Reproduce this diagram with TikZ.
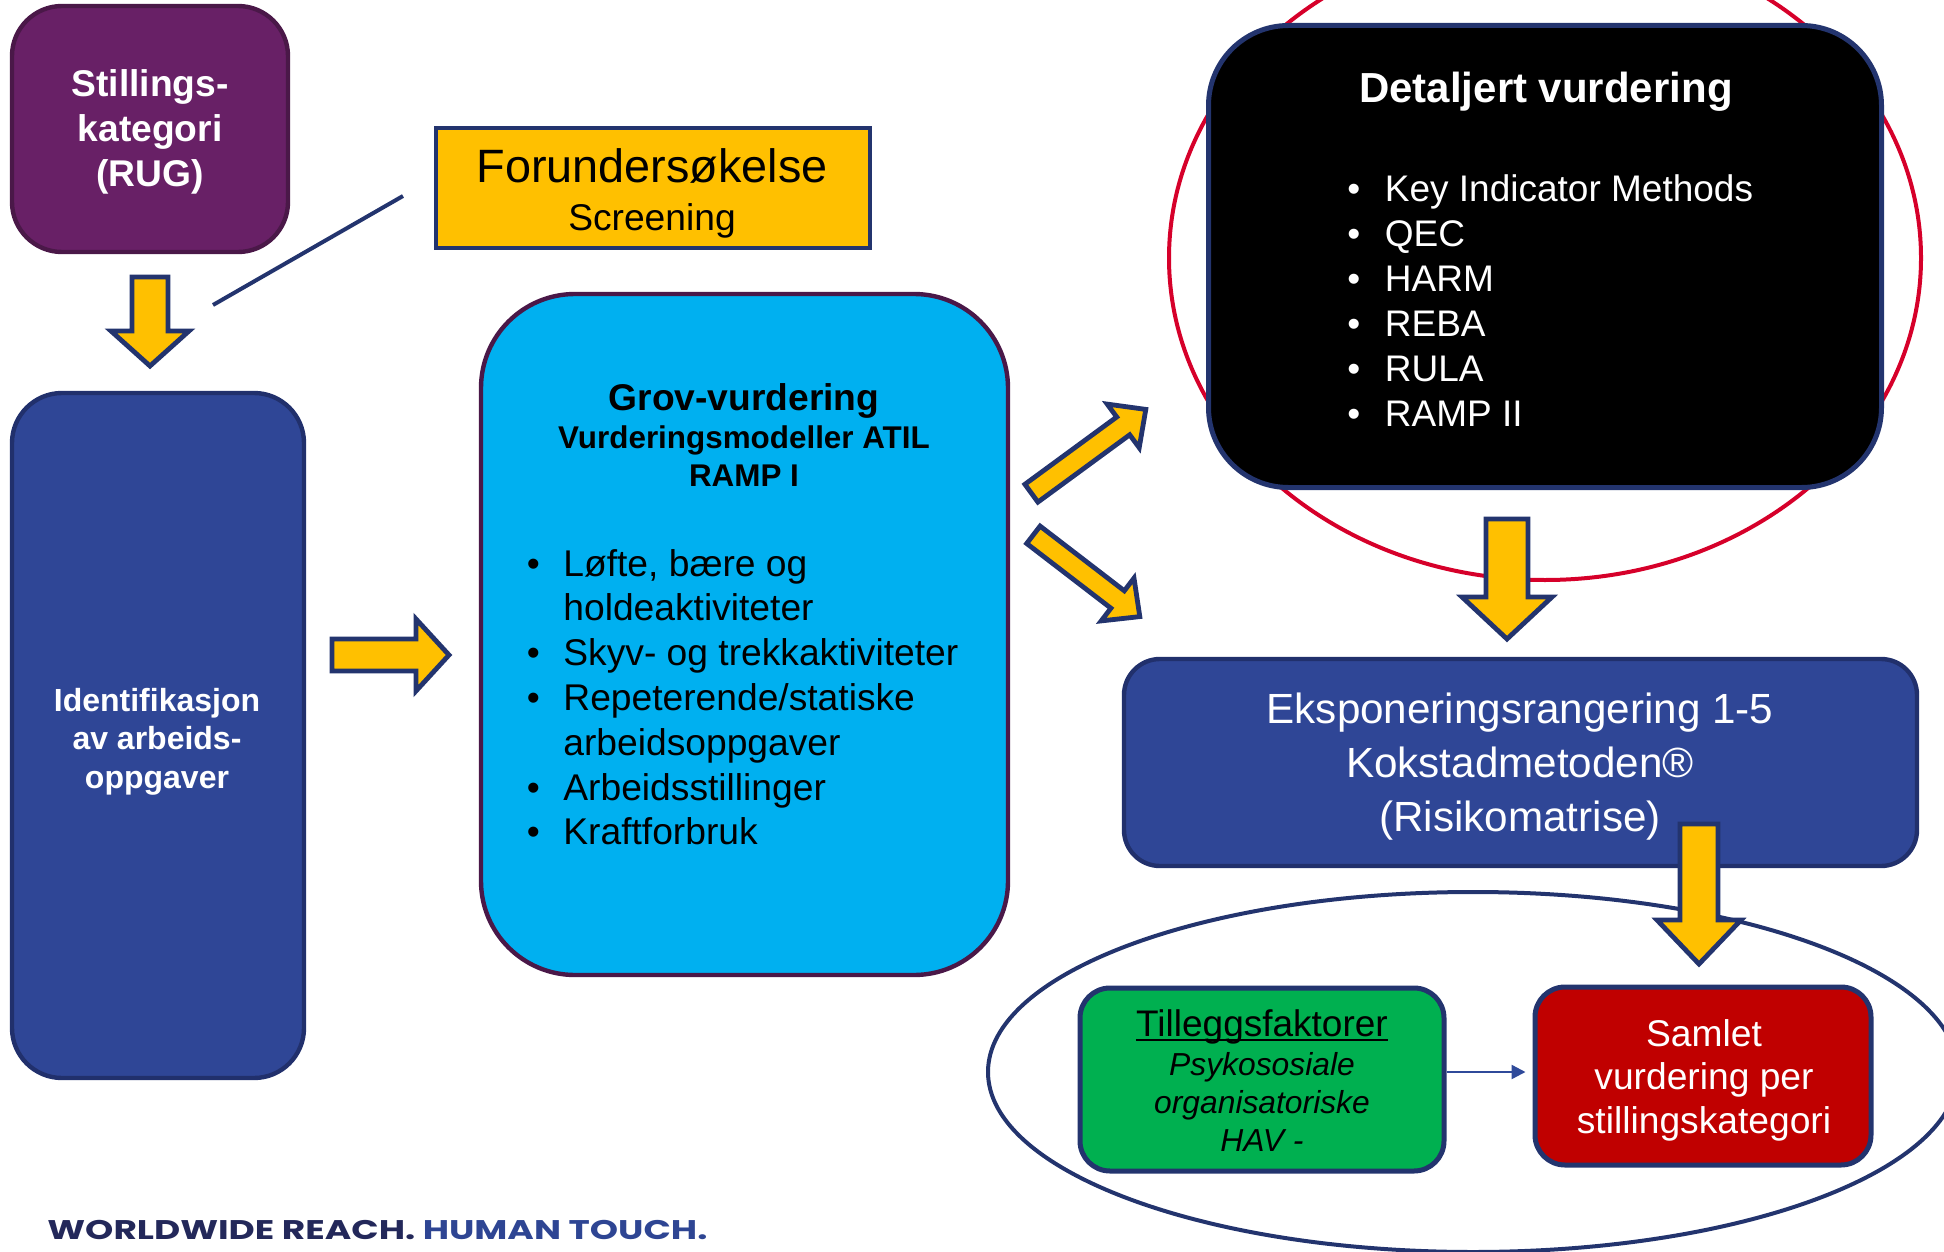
\documentclass[tikz,border=0pt]{standalone}
\usepackage{fontspec}
\usepackage{graphicx}
\setmainfont{Liberation Sans}
\newfontfamily\footfont{Poppins}
\usetikzlibrary{arrows.meta}
\definecolor{purp}{RGB}{104,32,102}
\definecolor{purpedge}{RGB}{74,24,72}
\definecolor{gold}{RGB}{255,192,0}
\definecolor{navy}{RGB}{35,52,110}
\definecolor{royal}{RGB}{47,70,150}
\definecolor{royaledge}{RGB}{33,48,108}
\definecolor{cyanbox}{RGB}{0,176,240}
\definecolor{greenbox}{RGB}{0,176,80}
\definecolor{redbox}{RGB}{192,0,0}
\definecolor{ringred}{RGB}{214,0,42}
\definecolor{footdark}{RGB}{35,40,90}
\definecolor{footblue}{RGB}{46,69,147}
\definecolor{thinblue}{RGB}{47,74,154}
\newcommand{\fsz}[2]{\fontsize{#1}{#2}\selectfont}
\newcommand{\ctab}[1]{\begin{tabular}[t]{@{}c@{}}#1\end{tabular}}
\begin{document}
\begin{tikzpicture}[x=0.5pt,y=-0.5pt,
  box/.style={draw, line width=2.2pt, rounded corners=#1, inner sep=0pt},
  box/.default=20pt,
  barrow/.style={draw=navy, fill=gold, line width=2.4pt, line join=miter},
  wtxt/.style={inner sep=0pt, text=white, anchor=base},
  ktxt/.style={inner sep=0pt, text=black, anchor=base},
]
\useasboundingbox (0,0) rectangle (1944,1252);
\clip (0,0) rectangle (1944,1252);

% rings
\draw[ringred, line width=2pt] (1545,258) ellipse [x radius=376, y radius=322];
\draw[navy, line width=2pt] (1473,1072) ellipse [x radius=485, y radius=180];

% boxes
\node[box=25pt, fill=purp, draw=purpedge, minimum width=138pt, minimum height=123pt] (stil) at (150,129) {};
\node[draw=navy, fill=gold, line width=2pt, minimum width=217pt, minimum height=60pt, inner sep=0pt] (forund) at (653,188) {};
\node[box=25pt, fill=royal, draw=royaledge, minimum width=146pt, minimum height=342.5pt] (ident) at (158,735.5) {};
\node[box=47pt, fill=cyanbox, draw=purpedge, minimum width=263.5pt, minimum height=340.5pt] (grov) at (744.5,634.5) {};
\node[box=40pt, fill=black, draw=navy, line width=2.5pt, minimum width=336.5pt, minimum height=231pt] (detal) at (1545,256.5) {};
\node[box=18pt, fill=royal, draw=royaledge, minimum width=396.5pt, minimum height=103.5pt] (ekspo) at (1520.5,762.5) {};
\node[box=15pt, fill=greenbox, draw=navy, line width=2.5pt, minimum width=182pt, minimum height=91.5pt] (tillegg) at (1262,1079.5) {};
\node[box=15pt, fill=redbox, draw=navy, line width=2.5pt, minimum width=168pt, minimum height=89pt] (samlet) at (1703,1076) {};

% connector line from screening
\coordinate (fl1) at (403,196);
\coordinate (fl2) at (213,305);
\draw[navy, line width=2pt] (fl1) -- (fl2);

% thin arrow
\draw[thinblue, line width=1.2pt, -{Triangle[length=7pt,width=7pt]}] ([yshift=3.75pt]tillegg.east) -- ([xshift=-3.5pt,yshift=2pt]samlet.west);

% block arrows
\draw[barrow] (132,277) -- (168,277) -- (168,331) -- (189,331) -- (150,366) -- (111,331) -- (132,331) -- cycle;
\draw[barrow] (332,639) -- (416,639) -- (416,619) -- (449,655) -- (416,691) -- (416,671) -- (332,671) -- cycle;
\draw[barrow] (1037.9,502.1) -- (1129.7,434.8) -- (1139.2,447.7) -- (1145.8,409.4) -- (1107.2,404.1) -- (1116.7,417.0) -- (1024.9,484.3) -- cycle;
\draw[barrow] (1026.7,543.5) -- (1110.9,608.2) -- (1101.2,620.9) -- (1139.8,616.6) -- (1134.0,578.1) -- (1124.3,590.8) -- (1040.1,526.1) -- cycle;
\draw[barrow] (1486,519) -- (1528,519) -- (1528,597) -- (1552,597) -- (1507,639) -- (1462,597) -- (1486,597) -- cycle;
\draw[barrow] (1680,824) -- (1718,824) -- (1718,920) -- (1741,920) -- (1699,964) -- (1657,920) -- (1680,920) -- cycle;

% texts
\node[wtxt, font=\bfseries\fsz{18.6pt}{22.3pt}] (stilt) at (150,97) {\ctab{Stillings-\\kategori\\(RUG)}};
\node[ktxt, font=\fsz{23.4pt}{26pt}] (forundA) at (652,183) {Forundersøkelse};
\node[ktxt, font=\fsz{18.6pt}{22pt}] (forundB) at (652,230) {Screening};
\node[wtxt, font=\bfseries\fsz{16pt}{19.3pt}] (identt) at (157,711) {\ctab{Identifikasjon\\av arbeids-\\oppgaver}};

\node[ktxt, font=\bfseries\fsz{18.6pt}{22pt}] (grovA) at (744,410) {Grov-vurdering};
\node[ktxt, font=\bfseries\fsz{15.7pt}{19pt}] (grovB) at (744,448) {\ctab{Vurderingsmodeller ATIL\\RAMP I}};
\node[inner sep=0pt, anchor=base west, font=\fsz{18.6pt}{22.4pt}] (grovlist) at (526.5,576)
  {\begin{tabular}[t]{@{}p{18.25pt}@{}l@{}}
  \textbullet & Løfte, bære og\\
   & holdeaktiviteter\\
  \textbullet & Skyv- og trekkaktiviteter\\
  \textbullet & Repeterende/statiske\\
   & arbeidsoppgaver\\
  \textbullet & Arbeidsstillinger\\
  \textbullet & Kraftforbruk
  \end{tabular}};

\node[wtxt, font=\bfseries\fsz{21pt}{24pt}] (detalA) at (1546,103) {Detaljert vurdering};
\node[inner sep=0pt, anchor=base west, text=white, font=\fsz{18.5pt}{22.5pt}] (detallist) at (1347,201)
  {\begin{tabular}[t]{@{}p{18.75pt}@{}l@{}}
  \textbullet & Key Indicator Methods\\
  \textbullet & QEC\\
  \textbullet & HARM\\
  \textbullet & REBA\\
  \textbullet & RULA\\
  \textbullet & RAMP II
  \end{tabular}};

\node[wtxt, font=\fsz{21.1pt}{27pt}] (ekspot) at (1520,723) {\ctab{Eksponeringsrangering 1-5\\Kokstadmetoden®\\(Risikomatrise)}};

\node[ktxt, font=\fsz{18.5pt}{22pt}] (tilt) at (1262,1036) {Tilleggsfaktorer};
\draw[black, line width=1pt] ([yshift=-2pt]tilt.base west) -- ([yshift=-2pt]tilt.base east);
\node[ktxt, font=\itshape\fsz{15.9pt}{19.2pt}] (tilit) at (1262,1075) {\ctab{Psykososiale\\organisatoriske\\HAV -}};

\node[wtxt, font=\fsz{18.6pt}{21.8pt}] (samlett) at (1704,1046) {\ctab{Samlet\\vurdering per\\stillingskategori}};

% footer
\node[anchor=base west, inner sep=0pt] (foot) at (47,1239)
  {\resizebox{330pt}{9.6pt}{\footfont\bfseries\textcolor{footdark}{WORLDWIDE REACH.} \textcolor{footblue}{HUMAN TOUCH.}}};
\end{tikzpicture}
\end{document}
